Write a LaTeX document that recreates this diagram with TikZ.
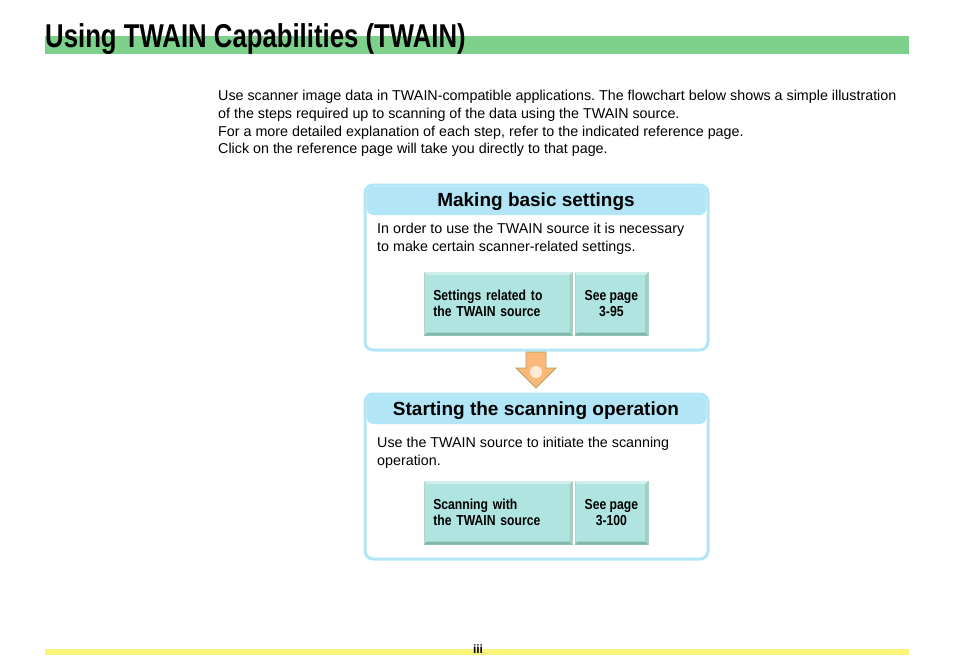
\documentclass[tikz,border=0pt]{standalone}
\usepackage{fontspec}
\setmainfont{Liberation Sans}
\newfontfamily\narrowfont[FakeStretch=0.84]{Liberation Sans}
\newfontfamily\titlefont[FakeStretch=0.78]{Liberation Sans}
\usetikzlibrary{positioning}
\frenchspacing
\definecolor{titlegreen}{HTML}{7DD18A}
\definecolor{pageyellow}{HTML}{FAF57A}
\definecolor{panelblue}{HTML}{B2E6F7}
\definecolor{btnfill}{HTML}{B0E4E0}
\definecolor{btndark}{HTML}{7FB8A8}
\definecolor{arrowfill}{HTML}{FBB878}
\tikzset{
  panel/.style={draw=panelblue, line width=3pt, rounded corners=8pt, fill=white},
  paneltitle/.style={font=\bfseries\fontsize{19}{22}\selectfont, anchor=base},
  bodytext/.style={font=\fontsize{14.3}{17.8}\selectfont, align=left, anchor=north west, inner sep=0pt},
  btn/.style={draw=btndark!60, line width=0.6pt, fill=btnfill, minimum height=63pt, anchor=north west,
    font=\narrowfont\bfseries\fontsize{14.5}{16}\selectfont, inner sep=0pt},
}
\begin{document}
\begin{tikzpicture}[x=1pt,y=-1pt]
\useasboundingbox (0,0) rectangle (954,672);
% title
\fill[titlegreen] (45,36) rectangle (909,54);
\node[anchor=base west, inner sep=0pt, font=\titlefont\bfseries\fontsize{33}{36}\selectfont] (title) at (45,47) {Using TWAIN Capabilities (TWAIN)};
% intro
\node[bodytext] (intro) at (218,90) {Use scanner image data in TWAIN-compatible applications. The flowchart below shows a simple illustration\\
of the steps required up to scanning of the data using the TWAIN source.\\
For a more detailed explanation of each step, refer to the indicated reference page.\\
Click on the reference page will take you directly to that page.};
% panel 1
\draw[panel] (365,185) rectangle (708,350);
\fill[panelblue, rounded corners=7pt] (366.5,186.5) -- (706.5,186.5) -- (706.5,215) -- (366.5,215) -- cycle;
\node[paneltitle] (set) at (536,206) {Making basic settings};
\node[bodytext] (setdesc) at (377,223) {In order to use the TWAIN source it is necessary\\to make certain scanner-related settings.};
\node[btn, minimum width=148pt, align=left, text width=130pt] (setbtn) at (424,272) {Settings related to\\the TWAIN source};
\node[btn, minimum width=73pt, align=center, right=2pt of setbtn.north east, anchor=north west] (setpage) {See page\\3-95};
% arrow
\draw[btndark!60!orange, fill=arrowfill, line width=0.8pt] (526,352) -- (546,352) -- (546,368) -- (556,368) -- (536,388) -- (516,368) -- (526,368) -- cycle;
\fill[white!70!arrowfill] (536,372) circle (6pt);
% panel 2
\draw[panel] (365,394) rectangle (708,559);
\fill[panelblue, rounded corners=7pt] (366.5,395.5) -- (706.5,395.5) -- (706.5,424) -- (366.5,424) -- cycle;
\node[paneltitle] (scan) at (536,415) {Starting the scanning operation};
\node[bodytext] (scandesc) at (377,437) {Use the TWAIN source to initiate the scanning\\operation.};
\node[btn, minimum width=148pt, align=left, text width=130pt] (scanbtn) at (424,481) {Scanning with\\the TWAIN source};
\node[btn, minimum width=73pt, align=center, right=2pt of scanbtn.north east, anchor=north west] (scanpage) {See page\\3-100};
% bevels
\foreach \b in {setbtn,setpage,scanbtn,scanpage} {
  \fill[btndark] (\b.south west) -- (\b.south east) -- ([xshift=-3pt,yshift=3pt]\b.south east) -- ([xshift=3pt,yshift=3pt]\b.south west) -- cycle;
  \fill[btndark!70] (\b.north east) -- (\b.south east) -- ([xshift=-3pt,yshift=3pt]\b.south east) -- ([xshift=-3pt,yshift=-3pt]\b.north east) -- cycle;
  \fill[white!40!btnfill] (\b.north west) -- (\b.north east) -- ([xshift=-3pt,yshift=-3pt]\b.north east) -- ([xshift=3pt,yshift=-3pt]\b.north west) -- cycle;
}
% footer
\fill[pageyellow] (45,649) rectangle (909,655);
\node[anchor=base, inner sep=0pt, font=\bfseries\fontsize{12}{14}\selectfont] (pagenum) at (478,653) {iii};
\end{tikzpicture}
\end{document}
